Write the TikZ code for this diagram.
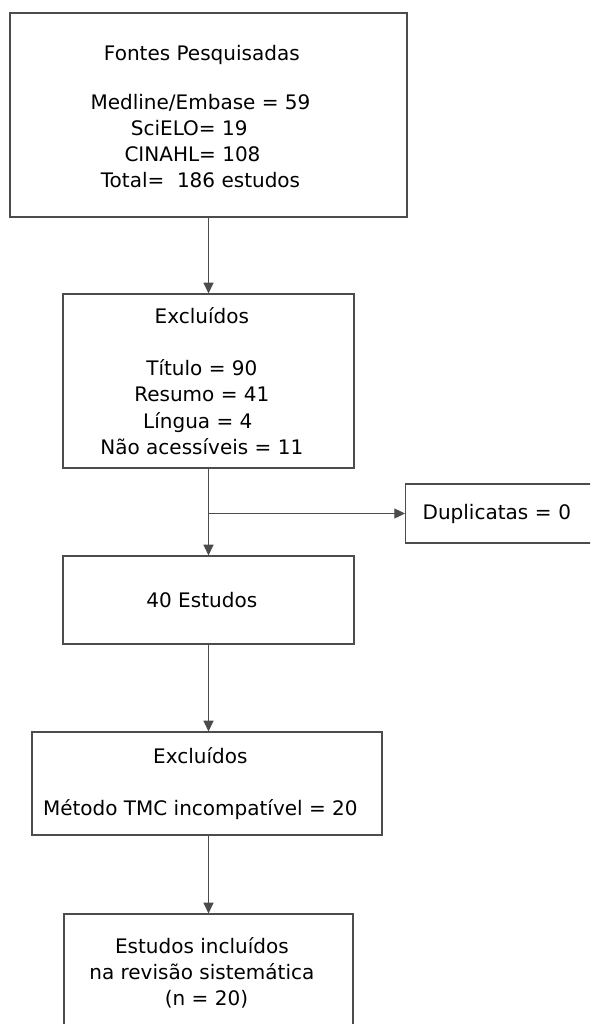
\documentclass[tikz,border=0pt]{standalone}
\usepackage{fontspec}
\setmainfont{DejaVu Sans}
\usetikzlibrary{arrows.meta}
\newcommand{\rpad}[1][10pt]{\rule{#1}{0pt}}

\begin{document}
\begin{tikzpicture}[x=0.75pt, y=-0.75pt,
  box/.style={draw=black!70, line width=0.9pt, align=center, inner sep=0pt,
    font=\fontsize{15}{19.6}\selectfont},
  flow/.style={draw=black!70, line width=0.9pt, -{Triangle[length=8pt,width=7.5pt]}}]
% page in px, 1px = 0.75pt
\clip (0,0) rectangle (590,1024);
\node[box, minimum width=297.75pt, minimum height=153pt] (fontes) at (208.5,115)
  {\rule{0pt}{14pt}Fontes Pesquisadas\rpad\\[17pt]
   Medline/Embase = 59\rpad[12pt]\\
   SciELO= 19\rpad[29pt]\\
   CINAHL= 108\rpad[24pt]\\
   Total=~ 186 estudos\rpad[12pt]};
\node[box, minimum width=218.25pt, minimum height=130.5pt] (excl1) at (208.5,381)
  {Excluídos\rpad\\[19.6pt]
   Título = 90\rpad\\
   Resumo = 41\rpad\\
   Língua = 4\rpad[16pt]\\
   Não acessíveis = 11\rpad};
\node[box, minimum width=218.25pt, minimum height=66pt] (estudos) at (208.5,600)
  {40 Estudos\rpad};
\node[box, anchor=west, align=left, text width=127.5pt, inner xsep=12.75pt,
  minimum height=44.25pt] (dup) at (405,513.5) {Duplicatas = 0};
\node[box, minimum width=262.5pt, minimum height=77.25pt] (excl2) at (207,783.5)
  {Excluídos\rpad\\[19.6pt]
   Método TMC incompatível = 20\rpad};
\node[box, minimum width=216.75pt, minimum height=87.75pt] (incl) at (208.5,972.5)
  {Estudos incluídos\rpad\\
   na revisão sistemática\rpad\\
   (n = 20)\rpad[3pt]};
% arrows
\coordinate (split) at (208.5,513.5);
\draw[flow] (fontes) -- (excl1);
\draw[flow] (excl1) -- (estudos);
\draw[flow] (split) -- (split -| dup.west);
\draw[flow] (estudos) -- (estudos |- excl2.north);
\draw[flow] (excl2.south -| incl) -- (incl);
\end{tikzpicture}
\end{document}
